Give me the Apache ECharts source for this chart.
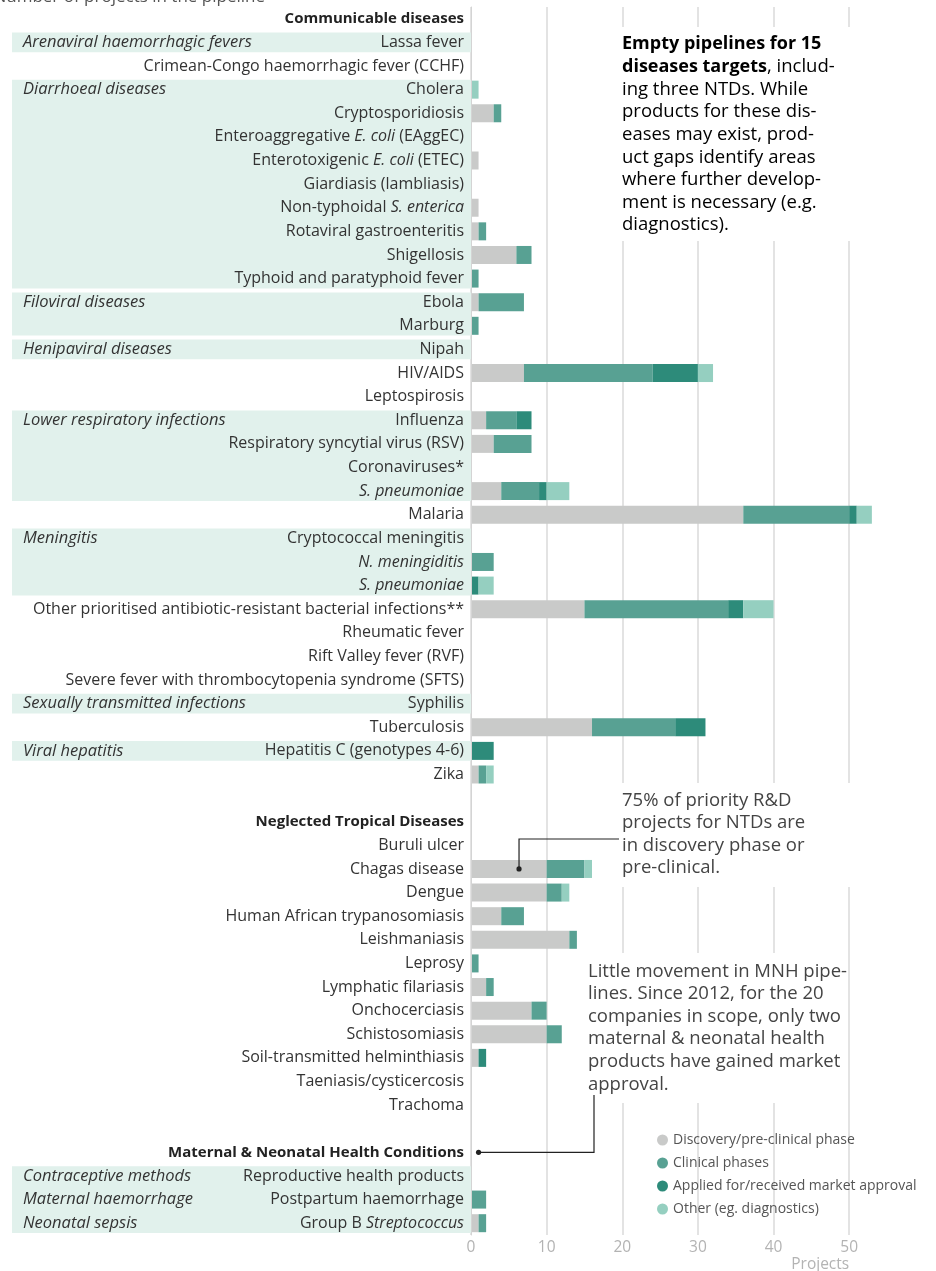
<!DOCTYPE html>
<html>
<head>
<meta charset="utf-8">
<script src="https://cdn.jsdelivr.net/npm/echarts@6/dist/echarts.min.js"></script>
<style>
html,body{margin:0;padding:0;background:#fff;}
#c{width:936px;height:1271px;}
</style>
</head>
<body>
<div id="c"></div>
<script>
// ---------- DATA ----------
// '#' prefix = section header (bold); text between '_' = italic; trailing spaces keep names unique
const categories = [
  '#Communicable diseases',
  'Lassa fever',
  'Crimean-Congo haemorrhagic fever (CCHF)',
  'Cholera',
  'Cryptosporidiosis',
  'Enteroaggregative _E. coli_ (EAggEC)',
  'Enterotoxigenic _E. coli_ (ETEC)',
  'Giardiasis (lambliasis)',
  'Non-typhoidal _S. enterica_',
  'Rotaviral gastroenteritis',
  'Shigellosis',
  'Typhoid and paratyphoid fever',
  'Ebola',
  'Marburg',
  'Nipah',
  'HIV/AIDS',
  'Leptospirosis',
  'Influenza',
  'Respiratory syncytial virus (RSV)',
  'Coronaviruses*',
  '_S. pneumoniae_',
  'Malaria',
  'Cryptococcal meningitis',
  '_N. meningiditis_',
  '_S. pneumoniae_ ',
  'Other prioritised antibiotic-resistant bacterial infections**',
  'Rheumatic fever',
  'Rift Valley fever (RVF)',
  'Severe fever with thrombocytopenia syndrome (SFTS)',
  'Syphilis',
  'Tuberculosis',
  'Hepatitis C (genotypes 4-6)',
  'Zika',
  ' ',
  '#Neglected Tropical Diseases',
  'Buruli ulcer',
  'Chagas disease',
  'Dengue',
  'Human African trypanosomiasis',
  'Leishmaniasis',
  'Leprosy',
  'Lymphatic filariasis',
  'Onchocerciasis',
  'Schistosomiasis',
  'Soil-transmitted helminthiasis',
  'Taeniasis/cysticercosis',
  'Trachoma',
  '  ',
  '#Maternal & Neonatal Health Conditions',
  'Reproductive health products',
  'Postpartum haemorrhage',
  'Group B _Streptococcus_'
];

const seriesNames = ['Discovery/pre-clinical phase', 'Clinical phases', 'Applied for/received market approval', 'Other (eg. diagnostics)'];

const discovery = [0,0,0,0,3,0,1,0,1,1,6,0,1,0,0,7,0,2,3,0,4,36,0,0,0,15,0,0,0,0,16,0,1,0,0,0,10,10,4,13,0,2,8,10,1,0,0,0,0,0,0,1];
const clinical  = [0,0,0,0,1,0,0,0,0,1,2,1,6,1,0,17,0,4,5,0,5,14,0,3,0,19,0,0,0,0,11,0,1,0,0,0,5,2,3,1,1,1,2,2,0,0,0,0,0,0,2,1];
const approved  = [0,0,0,0,0,0,0,0,0,0,0,0,0,0,0,6,0,2,0,0,1,1,0,0,1,2,0,0,0,0,4,3,0,0,0,0,0,0,0,0,0,0,0,0,1,0,0,0,0,0,0,0];
const other     = [0,0,0,1,0,0,0,0,0,0,0,0,0,0,0,2,0,0,0,0,3,2,0,0,2,4,0,0,0,0,0,0,1,0,0,0,1,1,0,0,0,0,0,0,0,0,0,0,0,0,0,0];

// shaded disease-group bands: first and last row index
const bandStart = [1, 3, 12, 14, 17, 22, 29, 31, 49];
const bandEnd   = [1, 11, 13, 14, 20, 24, 29, 31, 51];

// italic group labels and the row they sit on
const groupLabels = ['Arenaviral haemorrhagic fevers', 'Diarrhoeal diseases', 'Filoviral diseases', 'Henipaviral diseases',
  'Lower respiratory infections', 'Meningitis', 'Sexually transmitted infections', 'Viral hepatitis',
  'Contraceptive methods', 'Maternal haemorrhage', 'Neonatal sepsis'];
const groupLabelRows = [1, 3, 12, 14, 17, 22, 29, 31, 49, 50, 51];

const xTicks = [0, 10, 20, 30, 40, 50];

const note1 = ['{b|Empty pipelines for 15}', '{b|diseases targets}{n|, includ-}', '{n|ing three NTDs. While}',
  '{n|products for these dis-}', '{n|eases may exist, prod-}', '{n|uct gaps identify areas}',
  '{n|where further develop-}', '{n|ment is necessary (e.g.}', '{n|diagnostics).}'];
const note2 = ['75% of priority R&D', 'projects for NTDs are', 'in discovery phase or', 'pre-clinical.'];
const note3 = ['Little movement in MNH pipe-', 'lines. Since 2012, for the 20', 'companies in scope, only two',
  'maternal & neonatal health', 'products have gained market', 'approval.'];

// ---------- STYLE ----------
const FONT = 'Open Sans';
const colors = ['#c9cac9', '#58a193', '#2d8b7a', '#95cfc0'];
const LABEL_SIZE = 16;
const GROUP_SIZE = 16.5;
const HEAD_SIZE = 15;

const chart = echarts.init(document.getElementById('c'));

function fmtLabel(v) {
  const s = v.trim();
  if (!s) return '';
  if (s[0] === '#') return '{b|' + s.slice(1) + '}';
  return s.split('_').map((p, k) => p ? (k % 2 ? '{i|' + p + '}' : '{n|' + p + '}') : '').join('');
}

const barSeries = [discovery, clinical, approved, other].map((d, i) => ({
  name: seriesNames[i],
  type: 'bar',
  stack: 'all',
  barWidth: 18,
  data: d,
  itemStyle: { color: colors[i] },
  emphasis: { disabled: true },
  z: 3
}));

const bandData = bandStart.map((s, i) => [0, s, bandEnd[i]]);
const labelData = groupLabelRows.map((r, i) => [0, r, groupLabels[i]]);

const option = {
  animation: false,
  backgroundColor: '#fff',
  textStyle: { fontFamily: FONT },
  grid: { left: 471, right: 49, top: 7, bottom: 36 },
  xAxis: {
    type: 'value', min: 0, max: 55, interval: 10,
    axisLine: { show: false }, axisTick: { show: false },
    splitLine: { show: true, showMaxLine: false, lineStyle: { color: '#dadada', width: 1.5 } },
    axisLabel: {
      color: '#b3b3b3', fontSize: 15.5, margin: 5, fontFamily: FONT, showMaxLabel: false,
      formatter: v => (xTicks.indexOf(v) >= 0 ? String(v) : '')
    }
  },
  yAxis: {
    type: 'category', data: categories, inverse: true, z: 10,
    axisLine: { show: true, lineStyle: { color: '#d4d4d4', width: 1 } },
    axisTick: { show: false },
    axisLabel: {
      interval: 0, margin: 7, formatter: fmtLabel,
      rich: {
        n: { fontFamily: FONT, fontSize: LABEL_SIZE, color: '#333' },
        i: { fontFamily: FONT, fontSize: LABEL_SIZE, color: '#333', fontStyle: 'italic' },
        b: { fontFamily: FONT, fontSize: HEAD_SIZE, color: '#222', fontWeight: 'bold' }
      }
    }
  },
  legend: {
    data: seriesNames, orient: 'vertical', left: 657, top: 1133,
    icon: 'circle', itemWidth: 11, itemHeight: 11, itemGap: 9, selectedMode: false,
    padding: 0,
    textStyle: { color: '#555', fontSize: 14, fontFamily: FONT, lineHeight: 14 }
  },
  series: [
    {
      type: 'custom', name: 'bands', z: 1, silent: true,
      encode: { x: 0, y: 1 },
      data: bandData,
      renderItem: (params, api) => {
        const p1 = api.coord([0, api.value(1)]);
        const p2 = api.coord([0, api.value(2)]);
        const x0 = 12;
        return {
          type: 'rect',
          shape: { x: x0, y: p1[1] - 9.8, width: p1[0] - x0, height: p2[1] - p1[1] + 19.6 },
          style: { fill: '#e1f1ec' }
        };
      }
    },
    {
      type: 'custom', name: 'groupLabels', z: 2, silent: true,
      encode: { x: 0, y: 1 },
      data: labelData,
      renderItem: (params, api) => {
        const p = api.coord([0, api.value(1)]);
        return {
          type: 'text',
          style: {
            x: 23, y: p[1], text: groupLabels[params.dataIndex],
            fontFamily: FONT, fontSize: GROUP_SIZE, fontStyle: 'italic', fill: '#333',
            verticalAlign: 'middle', align: 'left'
          }
        };
      }
    }
  ].concat(barSeries)
};

chart.setOption(option);

// ---------- annotations ----------
const px = (v, r) => chart.convertToPixel({ gridIndex: 0 }, [v, r]);
const p50 = px(50, 0)[0];
const dot1 = px(6.35, 36);
const dot2 = px(1, 48);

const NOTE_SIZE = 18.5;
const NOTE_LH = 22.6;
const noteRich = {
  n: { fontFamily: FONT, fontSize: NOTE_SIZE, color: '#444', lineHeight: NOTE_LH },
  b: { fontFamily: FONT, fontSize: NOTE_SIZE - 0.5, color: '#222', fontWeight: 'bold', lineHeight: NOTE_LH }
};

chart.setOption({
  graphic: [
    // title (cut at top edge)
    { type: 'text', x: 265, y: 6, style: { text: 'Number of projects in the pipeline', fontFamily: FONT, fontSize: 17, fill: '#555', align: 'right', verticalAlign: 'bottom' } },
    // white boxes behind notes
    { type: 'rect', shape: { x: 612, y: 27, width: 250, height: 214 }, style: { fill: '#fff' }, z: 50 },
    { type: 'rect', shape: { x: 612, y: 783, width: 244, height: 104 }, style: { fill: '#fff' }, z: 50 },
    { type: 'rect', shape: { x: 580, y: 953, width: 268, height: 150 }, style: { fill: '#fff' }, z: 50 },
    // notes
    { type: 'text', x: 622, y: 33, z: 60, style: { text: note1.join('\n'), rich: noteRich, fontFamily: FONT, fontSize: NOTE_SIZE, lineHeight: NOTE_LH } },
    { type: 'text', x: 622, y: 789, z: 60, style: { text: note2.join('\n'), fontFamily: FONT, fontSize: NOTE_SIZE, lineHeight: NOTE_LH, fill: '#444' } },
    { type: 'text', x: 588, y: 960, z: 60, style: { text: note3.join('\n'), fontFamily: FONT, fontSize: NOTE_SIZE, lineHeight: NOTE_LH, fill: '#444' } },
    // leader lines
    { type: 'polyline', z: 60, shape: { points: [[dot1[0], dot1[1]], [dot1[0], 839], [619, 839]] }, style: { stroke: '#222', lineWidth: 1.2, fill: null } },
    { type: 'circle', z: 61, shape: { cx: dot1[0], cy: dot1[1], r: 2.6 }, style: { fill: '#222' } },
    { type: 'polyline', z: 60, shape: { points: [[dot2[0], dot2[1]], [594, dot2[1]], [594, 1095]] }, style: { stroke: '#222', lineWidth: 1.2, fill: null } },
    { type: 'circle', z: 61, shape: { cx: dot2[0], cy: dot2[1], r: 2.6 }, style: { fill: '#222' } },
    // axis title
    { type: 'text', x: p50, y: 1257, z: 60, style: { text: 'Projects', fontFamily: FONT, fontSize: 15.5, fill: '#b3b3b3', align: 'right' } }
  ]
});
</script>
</body>
</html>
